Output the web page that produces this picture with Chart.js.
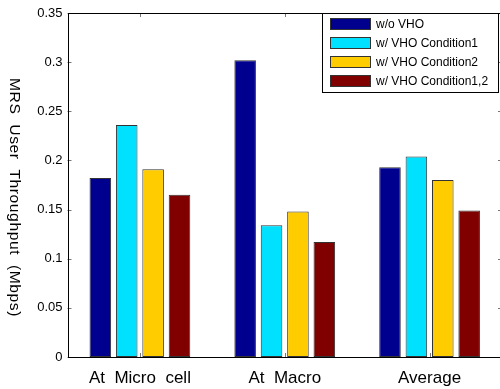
<!DOCTYPE html>
<html>
<head>
<meta charset="utf-8">
<script src="https://cdn.jsdelivr.net/npm/chart.js@4.4.1/dist/chart.umd.min.js"></script>
<style>
  html, body { margin: 0; padding: 0; background: #fff; overflow: hidden; }
  #wrap { width: 504px; height: 389px; position: relative; }
</style>
</head>
<body>
<div id="wrap"><canvas id="chart"></canvas></div>
<script>
// DATA
const categories = ["At  Micro  cell", "At  Macro", "Average"];
const seriesNames = ["w/o VHO", "w/ VHO Condition1", "w/ VHO Condition2", "w/ VHO Condition1,2"];
const woVHO = [0.182, 0.302, 0.193];
const cond1 = [0.236, 0.134, 0.204];
const cond2 = [0.191, 0.148, 0.180];
const cond12 = [0.165, 0.117, 0.149];
const yTicks = [0, 0.05, 0.1, 0.15, 0.2, 0.25, 0.3, 0.35];
const yTickLabels = ["0", "0.05", "0.1", "0.15", "0.2", "0.25", "0.3", "0.35"];
const yTitle = "MRS  User  Throughput  (Mbps)";

const colors = ["#00008f", "#00e0ff", "#ffcc00", "#800000"];
const FONT = "'Liberation Sans', Arial, Helvetica, sans-serif";

const seriesValues = [woVHO, cond1, cond2, cond12];
const datasets = seriesValues.map((vals, i) => ({
  label: seriesNames[i],
  data: vals,
  backgroundColor: colors[i],
  borderColor: "#333",
  borderWidth: 1,
  borderSkipped: false,
  barPercentage: 0.817,
  categoryPercentage: 0.729
}));

// frame, inward ticks, legend box, rotated y title
const matlabLook = {
  id: "matlabLook",
  afterDraw(chart) {
    const ctx = chart.ctx;
    const a = chart.chartArea;
    const y = chart.scales.y, x = chart.scales.x;
    ctx.save();

    // inward ticks
    ctx.strokeStyle = "#777";
    ctx.lineWidth = 1;
    ctx.beginPath();
    yTicks.forEach(v => {
      const py = Math.round(y.getPixelForValue(v)) + 0.5;
      ctx.moveTo(a.left, py); ctx.lineTo(a.left + 4, py);
      ctx.moveTo(a.right, py); ctx.lineTo(a.right - 4, py);
    });
    categories.forEach((c, i) => {
      const px = Math.round(x.getPixelForValue(i)) + 0.5;
      ctx.moveTo(px, a.bottom); ctx.lineTo(px, a.bottom - 4);
      ctx.moveTo(px, a.top); ctx.lineTo(px, a.top + 4);
    });
    ctx.stroke();

    // box
    ctx.strokeStyle = "#000";
    ctx.strokeRect(Math.round(a.left) + 0.5, Math.round(a.top) + 0.5,
      Math.round(a.right - a.left), Math.round(a.bottom - a.top));

    // legend
    const lx = 322, ly = Math.round(a.top), lw = 176, lh = 79;
    ctx.fillStyle = "#fff";
    ctx.fillRect(lx, ly, lw, lh);
    ctx.strokeStyle = "#000";
    ctx.strokeRect(lx + 0.5, ly + 0.5, lw, lh);
    ctx.font = "12px " + FONT;
    ctx.textBaseline = "middle";
    ctx.textAlign = "left";
    chart.data.datasets.forEach((ds, i) => {
      const cy = ly + 11 + i * 19;
      ctx.fillStyle = ds.backgroundColor;
      ctx.fillRect(330, cy - 6, 40, 12);
      ctx.strokeStyle = "#333";
      ctx.strokeRect(330.5, cy - 5.5, 40, 11);
      ctx.fillStyle = "#000";
      ctx.fillText(ds.label, 376, cy + 1);
    });

    // y title, reading top to bottom
    ctx.font = "14px " + FONT;
    ctx.letterSpacing = "0.5px";
    const w = ctx.measureText(yTitle).width;
    ctx.translate(10, 197.5);
    ctx.rotate(Math.PI / 2);
    ctx.scale(239 / w, 1);
    ctx.textAlign = "center";
    ctx.textBaseline = "alphabetic";
    ctx.fillStyle = "#000";
    ctx.fillText(yTitle, 0, 0);
    ctx.restore();
  }
};

new Chart(document.getElementById("chart"), {
  type: "bar",
  data: { labels: categories, datasets: datasets },
  options: {
    responsive: true,
    maintainAspectRatio: false,
    animation: false,
    layout: { padding: { top: 13, right: 2, left: 0, bottom: 0 } },
    plugins: { legend: { display: false }, tooltip: { enabled: false } },
    scales: {
      x: {
        grid: { display: false, drawTicks: false },
        border: { display: false },
        ticks: { color: "#000", font: { family: FONT, size: 17 }, padding: 11, maxRotation: 0 },
        afterFit(s) { s.height = 32; }
      },
      y: {
        min: 0,
        max: 0.35,
        grid: { display: false, drawTicks: false },
        border: { display: false },
        afterBuildTicks(s) { s.ticks = yTicks.map(v => ({ value: v })); },
        ticks: {
          color: "#000",
          font: { family: FONT, size: 13 },
          padding: 5,
          callback: (v, i) => yTickLabels[i]
        },
        afterFit(s) { s.width = 67.5; }
      }
    }
  },
  plugins: [matlabLook]
});
</script>
</body>
</html>
